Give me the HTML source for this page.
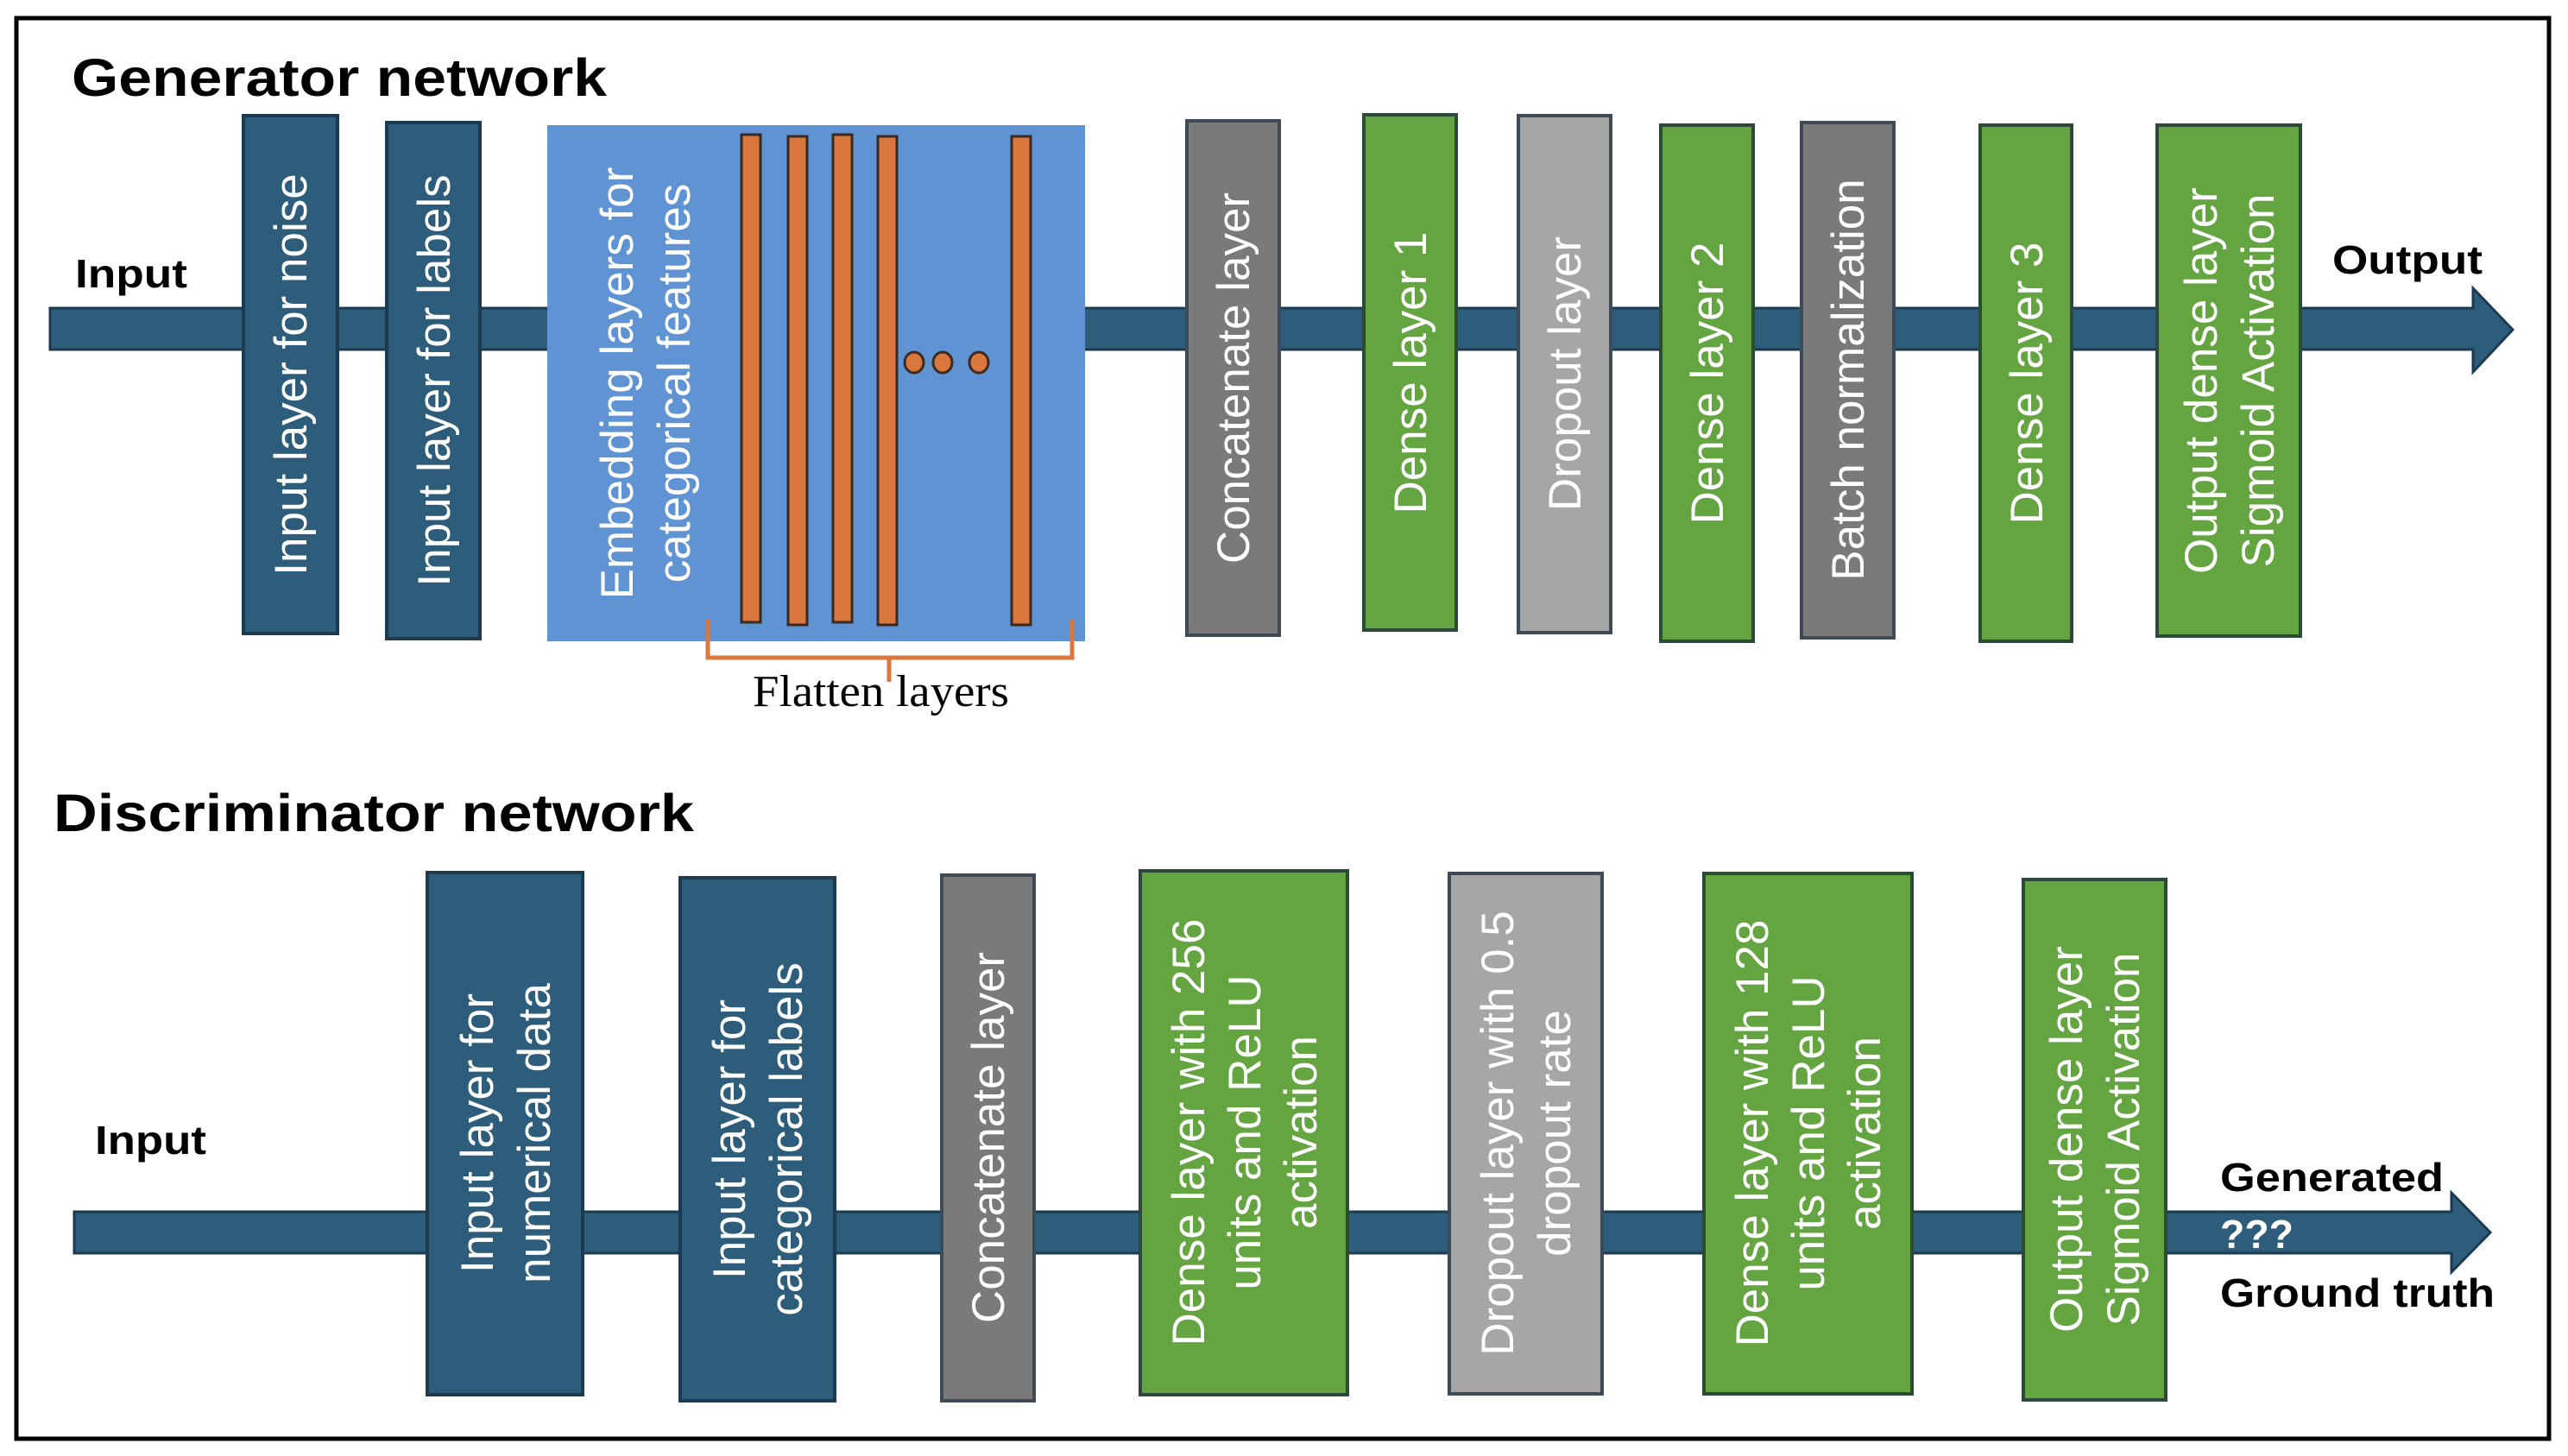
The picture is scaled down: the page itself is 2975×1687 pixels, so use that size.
<!DOCTYPE html>
<html><head><meta charset="utf-8"><style>
html,body{margin:0;padding:0;background:#fff;}
svg{display:block}
.t{font-family:"Liberation Sans",Arial,sans-serif;fill:#fff;font-size:53px;text-anchor:middle}
.h{font-family:"Liberation Sans",Arial,sans-serif;font-weight:bold;fill:#000}
</style></head><body>
<svg width="2975" height="1687" viewBox="0 0 2975 1687" xmlns="http://www.w3.org/2000/svg">
<rect x="19" y="21" width="2934" height="1646" fill="#fff" stroke="#000" stroke-width="5"/>
<text class="h" x="83" y="111" font-size="61" textLength="620" lengthAdjust="spacingAndGlyphs">Generator network</text>
<text class="h" x="62" y="963" font-size="61" textLength="742" lengthAdjust="spacingAndGlyphs">Discriminator network</text>
<text class="h" x="87" y="333" font-size="46" textLength="130" lengthAdjust="spacingAndGlyphs">Input</text>
<text class="h" x="2702" y="317" font-size="46" textLength="174" lengthAdjust="spacingAndGlyphs">Output</text>
<text class="h" x="110" y="1337" font-size="46" textLength="129" lengthAdjust="spacingAndGlyphs">Input</text>
<text class="h" x="2572" y="1380" font-size="46" textLength="259" lengthAdjust="spacingAndGlyphs">Generated</text>
<text class="h" x="2572" y="1514" font-size="46" textLength="318" lengthAdjust="spacingAndGlyphs">Ground truth</text>

<polygon points="58,357 2865,357 2865,334 2911,382 2865,431 2865,405 58,405" fill="#2e5d7c" stroke="#1c3a50" stroke-width="3"/>
<polygon points="86,1404 2840,1404 2840,1382 2885,1428 2840,1474 2840,1452 86,1452" fill="#2e5d7c" stroke="#1c3a50" stroke-width="3"/>
<text class="h" x="2572" y="1446" font-size="46" style="fill:#fff" textLength="85" lengthAdjust="spacingAndGlyphs">???</text>

<g stroke-width="4">
<rect x="282" y="134" width="109" height="600" fill="#2e5d7c" stroke="#1c3a50"/>
<rect x="448" y="142" width="108" height="598" fill="#2e5d7c" stroke="#1c3a50"/>
<rect x="634" y="145" width="623" height="598" fill="#5f93d3" stroke="none"/>
<rect x="1375" y="140" width="107" height="596" fill="#7a7a7a" stroke="#3e4a55"/>
<rect x="1580" y="133" width="107" height="597" fill="#64a541" stroke="#2d4a38"/>
<rect x="1759" y="134" width="107" height="599" fill="#a6a6a6" stroke="#3e4a55"/>
<rect x="1924" y="145" width="107" height="598" fill="#64a541" stroke="#2d4a38"/>
<rect x="2087" y="142" width="107" height="597" fill="#7a7a7a" stroke="#3e4a55"/>
<rect x="2294" y="145" width="106" height="598" fill="#64a541" stroke="#2d4a38"/>
<rect x="2499" y="145" width="166" height="592" fill="#64a541" stroke="#2d4a38"/>
<rect x="859" y="156" width="22" height="565" fill="#d9773e" stroke="#3a2a20" stroke-width="3"/>
<rect x="913" y="158" width="22" height="566" fill="#d9773e" stroke="#3a2a20" stroke-width="3"/>
<rect x="965" y="156" width="22" height="565" fill="#d9773e" stroke="#3a2a20" stroke-width="3"/>
<rect x="1017" y="158" width="22" height="566" fill="#d9773e" stroke="#3a2a20" stroke-width="3"/>
<rect x="1172" y="158" width="22" height="566" fill="#d9773e" stroke="#3a2a20" stroke-width="3"/>
<ellipse cx="1059" cy="420" rx="11" ry="12" fill="#d9773e" stroke="#3a2a20" stroke-width="3"/>
<ellipse cx="1092" cy="420" rx="11" ry="12" fill="#d9773e" stroke="#3a2a20" stroke-width="3"/>
<ellipse cx="1134" cy="420" rx="11" ry="12" fill="#d9773e" stroke="#3a2a20" stroke-width="3"/>
<rect x="495" y="1011" width="180" height="605" fill="#2e5d7c" stroke="#1c3a50"/>
<rect x="788" y="1017" width="179" height="606" fill="#2e5d7c" stroke="#1c3a50"/>
<rect x="1091" y="1014" width="107" height="609" fill="#7a7a7a" stroke="#3e4a55"/>
<rect x="1321" y="1009" width="240" height="607" fill="#64a541" stroke="#2d4a38"/>
<rect x="1679" y="1012" width="177" height="603" fill="#a6a6a6" stroke="#3e4a55"/>
<rect x="1974" y="1012" width="241" height="603" fill="#64a541" stroke="#2d4a38"/>
<rect x="2344" y="1019" width="165" height="603" fill="#64a541" stroke="#2d4a38"/>
</g>
<polyline points="820,718 820,762 1242,762 1242,718" fill="none" stroke="#d9773e" stroke-width="5"/>
<line x1="1030" y1="762" x2="1030" y2="790" stroke="#d9773e" stroke-width="5"/>
<text x="872" y="818" font-family="'Liberation Serif',serif" font-size="52" fill="#000" textLength="297" lengthAdjust="spacingAndGlyphs">Flatten layers</text>

<g class="t">
<text transform="translate(336,434) rotate(-90)" y="19">Input layer for noise</text>
<text transform="translate(502,441) rotate(-90)" y="19">Input layer for labels</text>
<text transform="translate(747,444) rotate(-90)"><tspan x="0" y="-14">Embedding layers for</tspan><tspan x="0" y="52">categorical features</tspan></text>
<text transform="translate(1428,438) rotate(-90)" y="19">Concatenate layer</text>
<text transform="translate(1633,432) rotate(-90)" y="19">Dense layer 1</text>
<text transform="translate(1812,433) rotate(-90)" y="19">Dropout layer</text>
<text transform="translate(1977,444) rotate(-90)" y="19">Dense layer 2</text>
<text transform="translate(2140,440) rotate(-90)" y="19">Batch normalization</text>
<text transform="translate(2347,444) rotate(-90)" y="19">Dense layer 3</text>
<text transform="translate(2582,441) rotate(-90)"><tspan x="0" y="-14">Output dense layer</tspan><tspan x="0" y="52">Sigmoid Activation</tspan></text>

<text transform="translate(585,1313) rotate(-90)"><tspan x="0" y="-14">Input layer for</tspan><tspan x="0" y="52">numerical data</tspan></text>
<text transform="translate(877,1320) rotate(-90)"><tspan x="0" y="-14">Input layer for</tspan><tspan x="0" y="52">categorical labels</tspan></text>
<text transform="translate(1144,1318) rotate(-90)" y="19">Concatenate layer</text>
<text transform="translate(1441,1312) rotate(-90)"><tspan x="0" y="-46">Dense layer with 256</tspan><tspan x="0" y="19">units and ReLU</tspan><tspan x="0" y="84">activation</tspan></text>
<text transform="translate(1767,1313) rotate(-90)"><tspan x="0" y="-14">Dropout layer with 0.5</tspan><tspan x="0" y="52">dropout rate</tspan></text>
<text transform="translate(2094,1313) rotate(-90)"><tspan x="0" y="-46">Dense layer with 128</tspan><tspan x="0" y="19">units and ReLU</tspan><tspan x="0" y="84">activation</tspan></text>
<text transform="translate(2426,1320) rotate(-90)"><tspan x="0" y="-14">Output dense layer</tspan><tspan x="0" y="52">Sigmoid Activation</tspan></text>
</g>
</svg>
</body></html>
